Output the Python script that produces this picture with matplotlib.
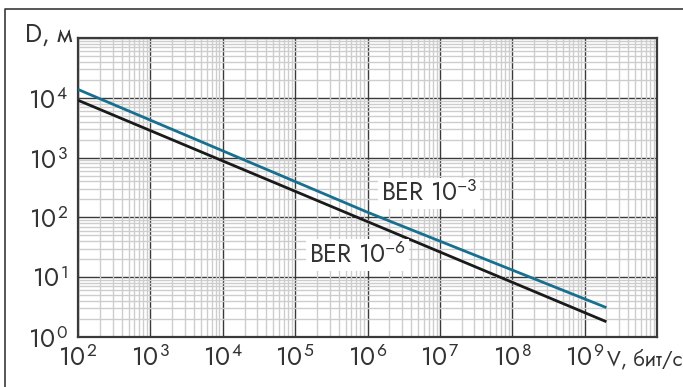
import matplotlib
matplotlib.use("Agg")
import matplotlib.pyplot as plt
from matplotlib import font_manager
from matplotlib.lines import Line2D
from matplotlib.ticker import LogLocator, FixedLocator, FixedFormatter

# Futura-like face, whichever is installed
have = {f.name for f in font_manager.fontManager.ttflist}
face = next((n for n in ['Jost', 'Futura', 'Questrial', 'Didact Gothic', 'Lato']
             if n in have), 'DejaVu Sans')
plt.rcParams['font.family'] = [face, 'DejaVu Sans']
plt.rcParams['mathtext.fontset'] = 'custom'
plt.rcParams['mathtext.rm'] = face
plt.rcParams['mathtext.it'] = face
plt.rcParams['mathtext.default'] = 'rm'

# values (straight lines on log-log axes)
rate = [1e2, 1e6, 2e9]             # V, bit/s
dist_ber3 = [1.38e4, 122, 3.1]     # D, m, BER 1e-3
dist_ber6 = [9.1e3, 85, 1.8]       # D, m, BER 1e-6

x_ticks = [1e2, 1e3, 1e4, 1e5, 1e6, 1e7, 1e8, 1e9]
x_labels = [r'$10^{\,%d}$' % p for p in range(2, 10)]
y_ticks = [1e0, 1e1, 1e2, 1e3, 1e4]
y_labels = [r'$10^{\,%d}$' % p for p in range(0, 5)]

txt = '#333333'
fs = 18

fig = plt.figure(figsize=(6.83, 3.87), dpi=100)
ax = fig.add_axes([78 / 683, 50 / 387, 579 / 683, 299 / 387])

ax.set_xscale('log')
ax.set_yscale('log')
ax.set_xlim(1e2, 1e10)
ax.set_ylim(1e0, 1e5)

ax.xaxis.set_major_locator(FixedLocator(x_ticks))
ax.xaxis.set_major_formatter(FixedFormatter(x_labels))
ax.yaxis.set_major_locator(FixedLocator(y_ticks))
ax.yaxis.set_major_formatter(FixedFormatter(y_labels))
ax.xaxis.set_minor_locator(LogLocator(base=10, subs=range(2, 10), numticks=20))
ax.yaxis.set_minor_locator(LogLocator(base=10, subs=range(2, 10), numticks=20))

# major grid on whole decades incl. the top one
for p in range(2, 11):
    ax.axvline(10 ** p, color='#3a3a3a', lw=1.0, zorder=1)
for p in range(0, 6):
    ax.axhline(10 ** p, color='#3a3a3a', lw=1.0, zorder=1)
ax.grid(which='minor', color='#cdcdcd', lw=1.0, zorder=0)

ax.tick_params(which='both', length=0, labelsize=fs, colors=txt)
ax.tick_params(axis='x', pad=6)
ax.tick_params(axis='y', pad=7)

for s in ax.spines.values():
    s.set_color('#3a3a3a')
    s.set_linewidth(1.6)

ax.plot(rate, dist_ber3, color='#17708f', lw=2.0, zorder=3,
        solid_capstyle='butt')
ax.plot(rate, dist_ber6, color='#1a1a1a', lw=2.0, zorder=3,
        solid_capstyle='butt')

box = dict(facecolor='white', edgecolor='none', pad=2)
ax.text(10 ** 6.85, 10 ** 2.4, r'BER $10^{-3}$', fontsize=fs, color=txt,
        ha='center', va='center', bbox=box, zorder=4)
ax.text(10 ** 5.86, 10 ** 1.37, r'BER $10^{-6}$', fontsize=fs, color=txt,
        ha='center', va='center', bbox=box, zorder=4)

ax.text(-0.01, 0.987, 'D, м', transform=ax.transAxes, fontsize=fs,
        color=txt, ha='right', va='baseline')

# x-axis name sits right after the last tick label
fig.canvas.draw()
last = ax.get_xticklabels()[-1].get_window_extent()
fig.text((last.x1 + 2) / fig.bbox.width, (last.y0 + 1) / fig.bbox.height,
         'V, бит/с', fontsize=15, color=txt, ha='left', va='bottom')

# outer frame of the figure (left and top only)
fig.add_artist(Line2D([5 / 683, 5 / 683, 1.0], [0.0, 1 - 8.5 / 387, 1 - 8.5 / 387],
                      transform=fig.transFigure, color='#3a3a3a', lw=1.2))

fig.savefig('out.png', dpi=100)
